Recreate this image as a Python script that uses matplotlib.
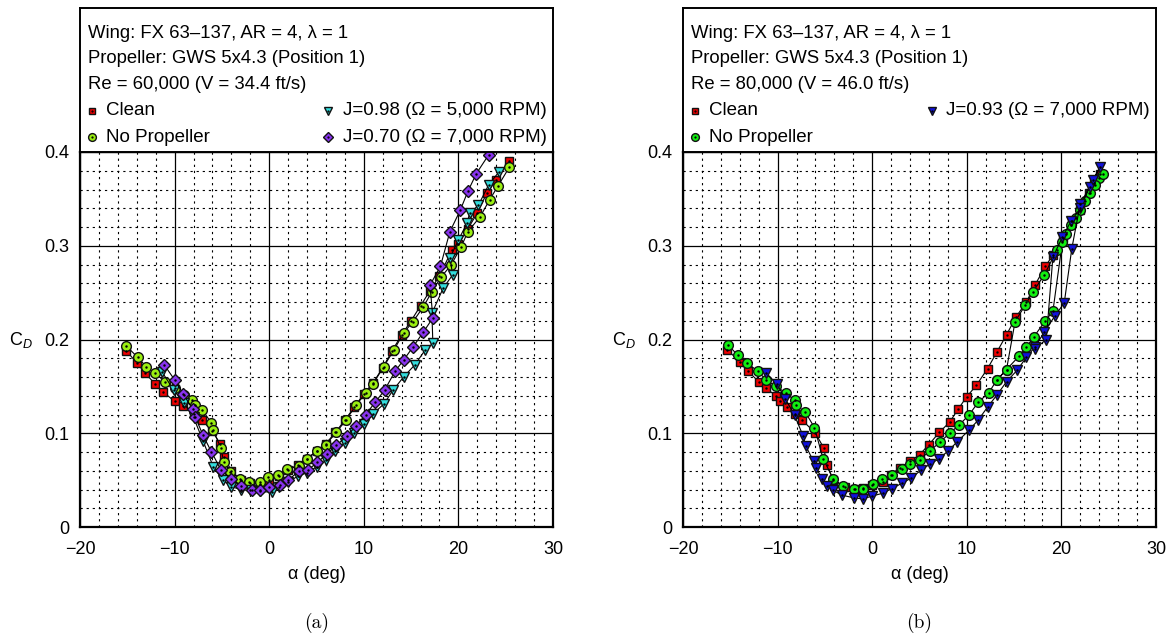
import matplotlib
matplotlib.use("Agg")
import matplotlib.pyplot as plt
from matplotlib.ticker import MultipleLocator, FuncFormatter

plt.rcParams['font.family'] = ['Liberation Sans', 'DejaVu Sans']
plt.rcParams['mathtext.fontset'] = 'custom'
plt.rcParams['mathtext.rm'] = 'Liberation Sans'
plt.rcParams['mathtext.it'] = 'Liberation Sans:italic'

# ---------------- Panel (a): Re = 60,000 ----------------
a_clean_alpha = [-15.1, -14.0, -13.1, -12.1, -11.2, -10.0, -9.1, -8.0, -7.1, -6.0, -5.2, -4.8,
                 -4.0, -3.0, -2.0, -1.0, 0.0, 1.0, 2.0, 3.0, 4.0, 5.0, 6.0, 7.0, 8.0, 9.0, 10.0,
                 11.0, 12.0, 13.0, 14.0, 15.0, 16.0, 17.0, 18.0, 19.3, 20.0, 21.0, 22.0, 23.0, 24.0, 25.3]
a_clean_cd = [0.188, 0.175, 0.164, 0.153, 0.144, 0.134, 0.129, 0.121, 0.114, 0.102, 0.089, 0.075,
              0.060, 0.050, 0.047, 0.046, 0.050, 0.054, 0.061, 0.066, 0.073, 0.081, 0.089, 0.101,
              0.114, 0.128, 0.142, 0.154, 0.170, 0.188, 0.205, 0.220, 0.236, 0.252, 0.268, 0.295,
              0.302, 0.318, 0.335, 0.356, 0.370, 0.390]

a_noprop_alpha = [-15.1, -13.9, -13.0, -12.1, -11.0, -10.0, -9.0, -8.2, -7.8, -7.1, -6.1, -5.9,
                  -5.1, -4.8, -4.1, -3.1, -2.1, -1.0, -0.1, 0.9, 1.9, 3.1, 4.0, 5.1, 6.0, 7.1, 8.1,
                  9.2, 10.2, 11.0, 12.1, 13.2, 14.2, 15.2, 16.3, 17.2, 18.2, 19.2, 20.3, 21.0, 22.3,
                  23.3, 24.2, 25.4]
a_noprop_cd = [0.193, 0.181, 0.171, 0.164, 0.155, 0.148, 0.141, 0.135, 0.130, 0.125, 0.111, 0.103,
               0.084, 0.069, 0.059, 0.051, 0.048, 0.048, 0.053, 0.055, 0.062, 0.065, 0.073, 0.081,
               0.088, 0.101, 0.114, 0.130, 0.143, 0.153, 0.171, 0.189, 0.207, 0.219, 0.235, 0.251,
               0.267, 0.279, 0.299, 0.315, 0.331, 0.349, 0.364, 0.384]

a_j098_alpha = [-11.3, -10.1, -9.0, -8.0, -7.0, -5.9, -4.9, -4.0, -3.0, -2.0, -1.0, 0.3, 1.0, 2.0,
                3.0, 4.0, 5.0, 6.0, 7.0, 8.0, 9.0, 10.0, 11.0, 12.1, 13.1, 14.2, 15.4, 16.5, 17.3,
                17.2, 18.4, 19.4, 19.1, 20.0, 20.9, 21.2, 22.1, 23.2, 24.3]
a_j098_cd = [0.165, 0.146, 0.132, 0.117, 0.092, 0.064, 0.050, 0.043, 0.040, 0.039, 0.038, 0.037,
             0.043, 0.048, 0.054, 0.058, 0.064, 0.071, 0.081, 0.090, 0.100, 0.110, 0.121, 0.131,
             0.146, 0.160, 0.173, 0.189, 0.196, 0.228, 0.255, 0.269, 0.287, 0.306, 0.324, 0.335,
             0.343, 0.365, 0.379]

a_j070_alpha = [-11.1, -10.0, -9.1, -8.1, -7.8, -7.0, -6.1, -5.1, -4.0, -3.0, -1.8, -1.0, 0.0, 1.1,
                2.0, 3.2, 4.1, 5.1, 6.1, 7.1, 8.2, 9.2, 10.2, 11.2, 12.2, 13.3, 14.2, 15.2, 16.3,
                17.3, 17.0, 18.1, 19.1, 20.2, 21.0, 21.9, 23.2]
a_j070_cd = [0.173, 0.157, 0.142, 0.126, 0.117, 0.098, 0.080, 0.061, 0.051, 0.044, 0.040, 0.039,
             0.043, 0.045, 0.050, 0.060, 0.061, 0.069, 0.078, 0.087, 0.097, 0.108, 0.120, 0.133,
             0.146, 0.166, 0.178, 0.192, 0.208, 0.223, 0.258, 0.278, 0.315, 0.338, 0.358, 0.377,
             0.397]

# ---------------- Panel (b): Re = 80,000 ----------------
b_clean_alpha = [-15.3, -14.0, -13.1, -12.0, -11.2, -10.2, -9.7, -9.0, -8.2, -7.4, -6.0, -5.1,
                 -4.8, -4.1, -2.9, -1.8, -1.0, 0.0, 1.1, 2.0, 2.9, 4.0, 5.0, 6.0, 7.1, 8.2, 9.1,
                 10.0, 11.0, 12.2, 13.2, 14.2, 15.2, 16.3, 17.2, 18.3, 19.1, 20.2, 21.1, 22.0,
                 22.9, 23.4, 24.1]
b_clean_cd = [0.189, 0.176, 0.166, 0.155, 0.148, 0.140, 0.134, 0.128, 0.121, 0.114, 0.100, 0.084,
              0.066, 0.050, 0.043, 0.041, 0.042, 0.045, 0.048, 0.056, 0.063, 0.070, 0.077, 0.088,
              0.101, 0.112, 0.126, 0.139, 0.151, 0.169, 0.187, 0.205, 0.224, 0.240, 0.258, 0.278,
              0.290, 0.308, 0.326, 0.338, 0.356, 0.367, 0.377]

b_noprop_alpha = [-15.2, -14.2, -13.2, -12.1, -11.2, -10.2, -9.1, -8.2, -8.1, -7.1, -6.1, -5.2,
                  -4.1, -3.1, -1.9, -1.0, 0.1, 1.0, 2.1, 3.2, 4.0, 5.0, 6.1, 7.2, 8.2, 9.2, 10.2,
                  11.2, 12.3, 13.2, 14.2, 15.5, 16.3, 17.1, 18.3, 19.1, 20.1, 21.0, 22.0, 23.0,
                  24.0, 24.4, 23.5, 22.5, 21.5, 20.5, 19.5, 18.2, 17.0, 16.2, 15.1, 14.2, 13.2]
b_noprop_cd = [0.194, 0.183, 0.175, 0.166, 0.157, 0.150, 0.143, 0.135, 0.130, 0.123, 0.106, 0.073,
               0.051, 0.044, 0.041, 0.041, 0.046, 0.051, 0.055, 0.062, 0.067, 0.072, 0.081, 0.091,
               0.100, 0.109, 0.119, 0.133, 0.143, 0.157, 0.168, 0.182, 0.192, 0.203, 0.220, 0.230,
               0.304, 0.322, 0.338, 0.356, 0.372, 0.377, 0.365, 0.348, 0.330, 0.313, 0.295, 0.269,
               0.251, 0.237, 0.219, 0.168, 0.157]

b_j093_alpha = [-11.2, -10.1, -9.2, -8.2, -7.3, -7.0, -6.2, -5.9, -5.3, -4.8, -4.1, -3.2, -1.9,
                -1.0, 0.0, 1.1, 2.1, 3.2, 4.1, 5.2, 6.1, 7.1, 8.0, 9.0, 10.2, 11.2, 12.2, 13.2,
                14.2, 15.3, 16.3, 17.2, 18.2, 19.3, 20.3, 21.1, 22.0, 23.0, 24.1, 23.3, 22.0, 21.0,
                20.1, 19.1, 18.4, 17.2]
b_j093_cd = [0.164, 0.153, 0.137, 0.119, 0.097, 0.086, 0.070, 0.063, 0.051, 0.044, 0.039, 0.034,
             0.031, 0.030, 0.033, 0.036, 0.041, 0.047, 0.052, 0.061, 0.067, 0.073, 0.081, 0.091,
             0.103, 0.114, 0.128, 0.141, 0.155, 0.167, 0.181, 0.192, 0.208, 0.225, 0.239, 0.297,
             0.345, 0.363, 0.384, 0.370, 0.340, 0.326, 0.309, 0.288, 0.200, 0.190]

header_a = ["Wing: FX 63\u2013137, AR = 4, \u03bb = 1",
            "Propeller: GWS 5x4.3 (Position 1)",
            "Re = 60,000 (V = 34.4 ft/s)"]
header_b = ["Wing: FX 63\u2013137, AR = 4, \u03bb = 1",
            "Propeller: GWS 5x4.3 (Position 1)",
            "Re = 80,000 (V = 46.0 ft/s)"]

RED = '#ee0000'
LIME = '#99ee11'
GREEN = '#11ee11'
CYAN = '#33dddd'
PURPLE = '#8833ee'
BLUE = '#1111dd'

series_a = [
    (a_clean_alpha, a_clean_cd, 's', RED, 6.0, "Clean"),
    (a_noprop_alpha, a_noprop_cd, 'o', LIME, 7.0, "No Propeller"),
    (a_j098_alpha, a_j098_cd, 'v', CYAN, 7.5, "J=0.98 (\u03a9 = 5,000 RPM)"),
    (a_j070_alpha, a_j070_cd, 'D', PURPLE, 6.0, "J=0.70 (\u03a9 = 7,000 RPM)"),
]
series_b = [
    (b_clean_alpha, b_clean_cd, 's', RED, 6.0, "Clean"),
    (b_noprop_alpha, b_noprop_cd, 'o', GREEN, 7.0, "No Propeller"),
    (b_j093_alpha, b_j093_cd, 'v', BLUE, 7.5, "J=0.93 (\u03a9 = 7,000 RPM)"),
]

W, H = 1172, 635
fig = plt.figure(figsize=(W / 100, H / 100), dpi=100)

FS_HEAD = 13.3
FS_LEG = 13.5
FS = 13


def fmt_x(v, pos):
    return ("%d" % round(v)).replace('-', '\u2212')


def fmt_y(v, pos):
    if abs(v) < 1e-9:
        return "0"
    return "%.1f" % v


def make_panel(left_px, series, header, legend_pos, tag):
    l = left_px / W
    w = 473 / W
    b = (H - 527) / H
    h = 375 / H
    ax = fig.add_axes([l, b, w, h])
    for x, y, m, c, ms, lab in series:
        ax.plot(x, y, color='black', lw=0.8, marker=m, markerfacecolor=c,
                markeredgecolor='#111111', markeredgewidth=1.0, markersize=ms, zorder=3)
        ax.plot(x, y, ls='none', marker='.', color='black', markersize=1.5, zorder=4)
    ax.set_xlim(-20, 30)
    ax.set_ylim(0, 0.4)
    ax.xaxis.set_major_locator(MultipleLocator(10))
    ax.xaxis.set_minor_locator(MultipleLocator(2))
    ax.yaxis.set_major_locator(MultipleLocator(0.1))
    ax.yaxis.set_minor_locator(MultipleLocator(0.02))
    ax.xaxis.set_major_formatter(FuncFormatter(fmt_x))
    ax.yaxis.set_major_formatter(FuncFormatter(fmt_y))
    ax.grid(which='major', color='black', lw=0.9, ls='-')
    ax.grid(which='minor', color='black', lw=0.8, ls=(0, (2, 3.5)))
    ax.set_axisbelow(True)
    ax.tick_params(which='both', length=0)
    ax.tick_params(axis='x', pad=10, labelsize=FS)
    ax.tick_params(axis='y', pad=8, labelsize=FS)
    for s in ax.spines.values():
        s.set_linewidth(1.6)
    ax.set_xlabel("\u03b1 (deg)", fontsize=FS, labelpad=6)
    ax.text(-0.125, 0.5, r"C$_{\mathit{D}}$", transform=ax.transAxes, fontsize=FS,
            ha='center', va='center')
    ax.text(0.5, -0.255, "(" + tag + ")", transform=ax.transAxes, fontsize=14,
            family='cmr10', ha='center', va='center')

    # header box above the axes
    bx = fig.add_axes([l, (H - 152) / H, w, 144 / H])
    bx.set_xlim(0, 1)
    bx.set_ylim(0, 1)
    bx.set_xticks([])
    bx.set_yticks([])
    for s in bx.spines.values():
        s.set_linewidth(1.4)
    for i, line in enumerate(header):
        bx.text(0.017, [0.826, 0.650, 0.470][i], line, fontsize=FS_HEAD, ha='left', va='center')
    for (x, y, m, c, ms, lab), (px, py) in zip(series, legend_pos):
        bx.plot([px], [py], marker=m, markerfacecolor=c, markeredgecolor='#111111',
                markeredgewidth=1.0, markersize=ms * 0.8, ls='none')
        bx.plot([px], [py], marker='.', color='black', markersize=1.2, ls='none')
        bx.text(px + 0.031, py, lab, fontsize=FS_LEG, ha='left', va='center')
    return ax


pos_a = [(0.025, 0.285), (0.025, 0.104), (0.524, 0.285), (0.524, 0.104)]
pos_b = [(0.025, 0.285), (0.025, 0.104), (0.526, 0.285)]
make_panel(80, series_a, header_a, pos_a, 'a')
make_panel(683, series_b, header_b, pos_b, 'b')

fig.savefig("out.png", dpi=100)
